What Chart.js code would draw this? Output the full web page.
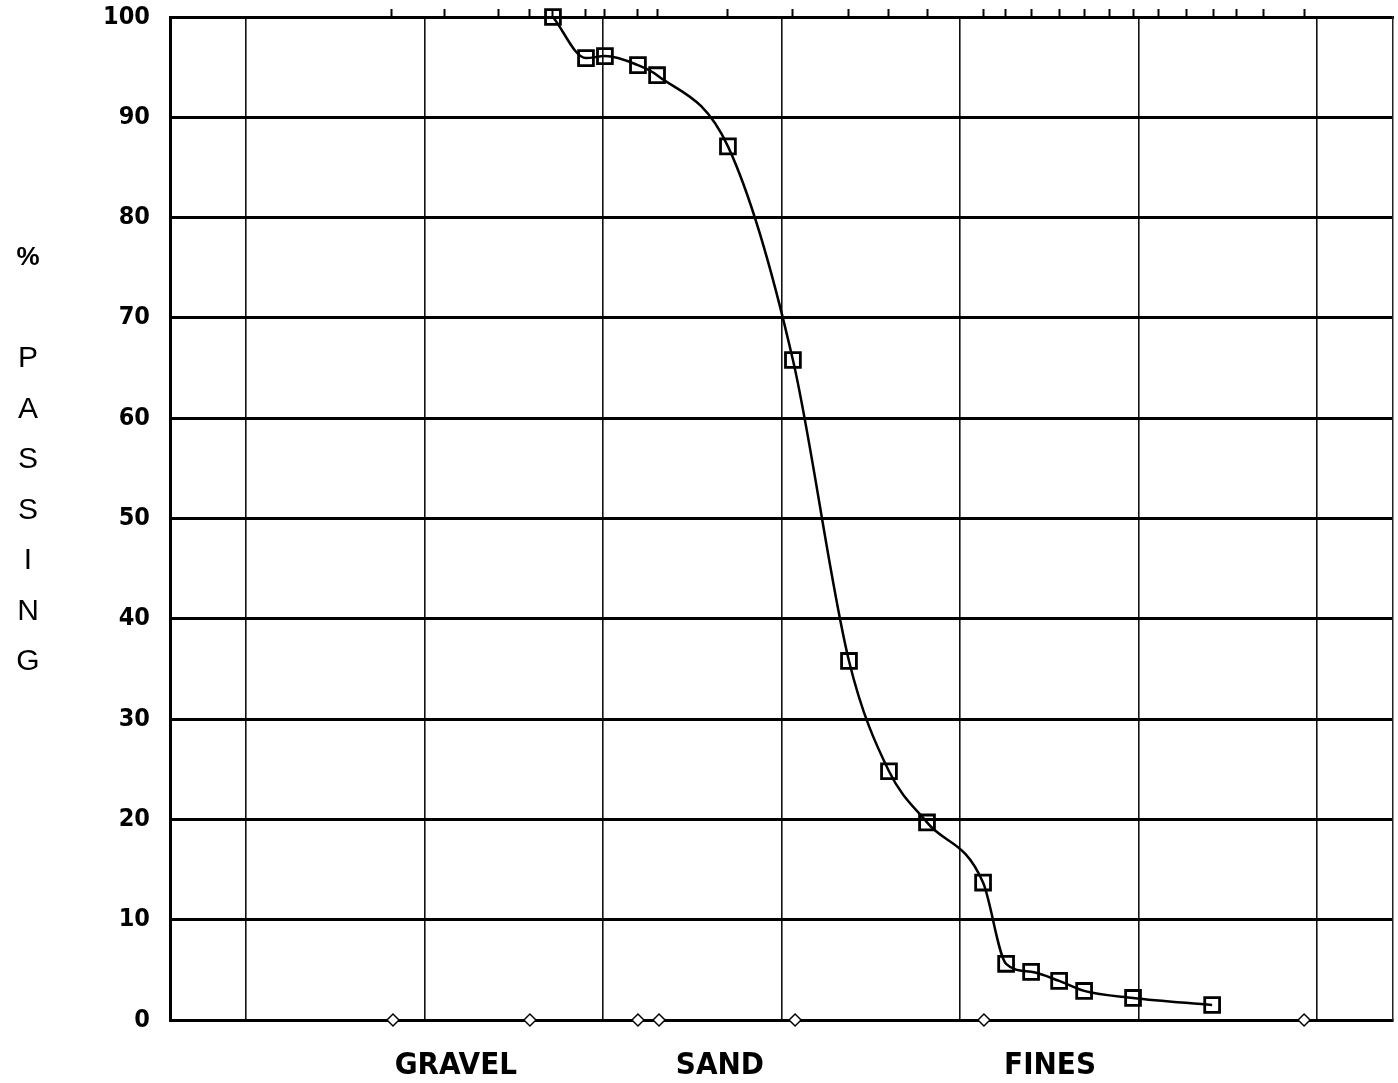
<!DOCTYPE html>
<html lang="en">
<head>
    <meta charset="UTF-8">
    <title>% Passing - Grain Size Curve</title>
    <script src="https://cdn.jsdelivr.net/npm/chart.js"></script>
    <style>
        html, body { margin: 0; padding: 0; background: #fff; overflow: hidden; }
        .chart-container { width: 1398px; height: 1083px; position: relative; }
        canvas { display: block; }
    </style>
</head>
<body>
    <div class="chart-container">
        <canvas id="gradationChart" width="1398" height="1083"></canvas>
    </div>

    <script>
        // Sieve positions (one unit = one major vertical division) and % passing
        const sievePos = [1.720, 1.905, 2.011, 2.196, 2.303, 2.700, 3.064, 3.378, 3.602,
                          3.815, 4.129, 4.258, 4.398, 4.555, 4.695, 4.969, 5.412];
        const percentPassing = [100, 95.9, 96.1, 95.2, 94.2, 87.1, 65.8, 35.8, 24.8,
                                19.7, 13.7, 5.6, 4.8, 3.9, 2.9, 2.2, 1.5];

        // Small diamond markers sitting on the 0 % line
        const limitPos = [0.824, 1.591, 2.196, 2.314, 3.076, 4.134, 5.927];
        const limitValues = [0, 0, 0, 0, 0, 0, 0];

        // Tick marks along the top edge
        const topTicks = [0.818, 1.115, 1.417, 1.591, 1.720, 1.905, 2.011, 2.196, 2.303,
                          2.700, 3.064, 3.378, 3.602, 3.815, 4.129, 4.252, 4.398, 4.555,
                          4.695, 4.835, 4.969, 5.109, 5.266, 5.417, 5.546, 5.697, 5.927];

        // Major vertical grid lines and x range
        const xGrid = [0, 1, 2, 3, 4, 5, 6];
        const xMin = -0.425;
        const xMax = 6.425;

        // Soil class labels under the chart
        const classNames = ['GRAVEL', 'SAND', 'FINES'];
        const classPos = [1.176, 2.655, 4.504];

        const yTitle = ['%', '', 'P', 'A', 'S', 'S', 'I', 'N', 'G'];

        const condensed = "'DejaVu Sans Condensed', 'DejaVu Sans', sans-serif";

        // no extra room for overflowing labels: the plot box is placed by hand
        function noPad(s) {
            s.paddingTop = 0;
            s.paddingBottom = 0;
            s.paddingLeft = 0;
            s.paddingRight = 0;
        }

        // Draws the stacked "% PASSING" title on the left
        const stackedTitle = {
            id: 'stackedTitle',
            afterDraw(chart) {
                const ctx = chart.ctx;
                ctx.save();
                ctx.fillStyle = '#000';
                ctx.textAlign = 'center';
                ctx.textBaseline = 'middle';
                yTitle.forEach((ch, i) => {
                    ctx.font = ch === '%' ? "bold 26px 'Liberation Sans', Arial, sans-serif"
                                          : "30px 'Liberation Sans', Arial, sans-serif";
                    ctx.fillText(ch, 28, chart.chartArea.top + 241 + i * 50.5);
                });
                ctx.restore();
            }
        };

        const ctx = document.getElementById('gradationChart').getContext('2d');
        new Chart(ctx, {
            type: 'line',
            data: {
                datasets: [
                    {
                        label: '% Passing',
                        data: sievePos.map((x, i) => ({ x: x, y: percentPassing[i] })),
                        borderColor: '#000',
                        borderWidth: 2.5,
                        cubicInterpolationMode: 'monotone',
                        pointStyle: 'rect',
                        pointRadius: 10.5,
                        pointBorderWidth: 2.8,
                        pointBorderColor: '#000',
                        pointBackgroundColor: 'rgba(0,0,0,0)',
                        clip: false
                    },
                    {
                        label: 'Limits',
                        data: limitPos.map((x, i) => ({ x: x, y: limitValues[i] })),
                        showLine: false,
                        pointStyle: 'rectRot',
                        pointRadius: 6,
                        pointBorderWidth: 1.5,
                        pointBorderColor: '#000',
                        pointBackgroundColor: '#fff',
                        clip: false
                    }
                ]
            },
            options: {
                responsive: false,
                animation: false,
                layout: { padding: 0, autoPadding: false },
                plugins: {
                    legend: { display: false },
                    tooltip: { enabled: false }
                },
                scales: {
                    x: {
                        type: 'linear',
                        position: 'bottom',
                        min: xMin,
                        max: xMax,
                        afterBuildTicks: s => { s.ticks = xGrid.map(v => ({ value: v })); },
                        afterFit: s => { s.height = 0; noPad(s); },
                        grid: { color: '#111', lineWidth: 1.6, drawTicks: false },
                        border: { color: '#000', width: 3 },
                        ticks: { display: false }
                    },
                    xLabels: {
                        type: 'linear',
                        position: 'bottom',
                        min: xMin,
                        max: xMax,
                        afterBuildTicks: s => { s.ticks = classPos.map(v => ({ value: v })); },
                        afterFit: s => { s.height = 63; noPad(s); },
                        grid: { display: false },
                        border: { display: false },
                        ticks: {
                            autoSkip: false,
                            maxRotation: 0,
                            padding: 19,
                            color: '#000',
                            font: { family: condensed, size: 31, weight: 'bold' },
                            callback: (v, i) => classNames[i]
                        }
                    },
                    xTop: {
                        type: 'linear',
                        position: 'top',
                        min: xMin,
                        max: xMax,
                        afterBuildTicks: s => { s.ticks = topTicks.map(v => ({ value: v })); },
                        afterFit: s => { s.height = 17; noPad(s); },
                        grid: {
                            drawOnChartArea: false,
                            drawTicks: true,
                            tickLength: 8,
                            tickWidth: 2,
                            tickColor: '#000'
                        },
                        border: { color: '#000', width: 3 },
                        ticks: { display: false }
                    },
                    y: {
                        type: 'linear',
                        position: 'left',
                        min: 0,
                        max: 100,
                        afterFit: s => { s.width = 170; noPad(s); },
                        grid: { color: '#000', lineWidth: 3, drawTicks: false },
                        border: { color: '#000', width: 3 },
                        ticks: {
                            stepSize: 10,
                            padding: 20,
                            color: '#000',
                            font: { family: condensed, size: 25, weight: 'bold' }
                        }
                    },
                    yRight: {
                        type: 'linear',
                        position: 'right',
                        min: 0,
                        max: 100,
                        afterFit: s => { s.width = 5; noPad(s); },
                        grid: { drawOnChartArea: false, drawTicks: false },
                        border: { color: '#222', width: 1.5 },
                        ticks: { display: false }
                    }
                }
            },
            plugins: [stackedTitle]
        });
    </script>
</body>
</html>
